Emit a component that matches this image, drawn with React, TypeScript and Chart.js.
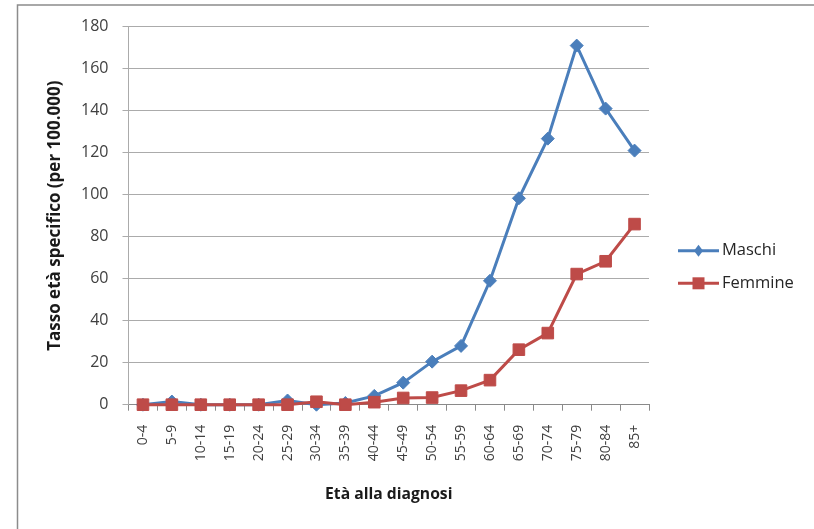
import React, { useEffect, useRef } from "react";
import { Chart, registerables } from "chart.js";

Chart.register(...registerables);

const categories = ["0-4","5-9","10-14","15-19","20-24","25-29","30-34","35-39","40-44","45-49","50-54","55-59","60-64","65-69","70-74","75-79","80-84","85+"];
const maschi = [0, 1.5, 0, 0, 0, 2, 0, 0.8, 4.2, 10.5, 20.5, 28, 59, 98.3, 126.7, 171, 141, 121];
const femmine = [0, 0, 0, 0, 0, 0, 1.4, 0, 1.2, 3.2, 3.4, 6.7, 11.7, 26.2, 34.1, 62.2, 68.3, 86];
const seriesNames = ["Maschi", "Femmine"];
const seriesColors = ["#4A7EBB", "#BE4B48"];
const yTitle = "Tasso età specifico (per 100.000)";
const xTitle = "Età alla diagnosi";

const FONT = "'Open Sans', Lato, sans-serif";

const frameAndLegend = {
  id: "frameAndLegend",
  afterDraw(chart: any) {
    const ctx = chart.ctx;
    ctx.save();
    ctx.strokeStyle = "#8c8c8c";
    ctx.lineWidth = 1.5;
    ctx.strokeRect(17.5, 5, 900, 600);
    const x0 = 678, x1 = 719, mx = 698.5;
    const ys = [250.7, 283.3];
    seriesNames.forEach((name, i) => {
      const y = ys[i];
      const c = seriesColors[i];
      ctx.strokeStyle = c;
      ctx.lineWidth = 3;
      ctx.beginPath();
      ctx.moveTo(x0, y);
      ctx.lineTo(x1, y);
      ctx.stroke();
      ctx.fillStyle = c;
      ctx.beginPath();
      if (i === 0) {
        ctx.moveTo(mx - 4.5, y);
        ctx.lineTo(mx, y - 6);
        ctx.lineTo(mx + 4.5, y);
        ctx.lineTo(mx, y + 6);
        ctx.closePath();
      } else {
        ctx.rect(mx - 6, y - 6, 12, 12);
      }
      ctx.fill();
      ctx.fillStyle = "#262626";
      ctx.font = "16.5px " + FONT;
      ctx.textAlign = "left";
      ctx.textBaseline = "middle";
      ctx.fillText(name, 722, y);
    });
    ctx.restore();
  },
};

export default function App() {
  const ref = useRef<HTMLCanvasElement | null>(null);
  useEffect(() => {
    const canvas = ref.current;
    if (!canvas) return;
    const chart = new Chart(canvas, {
      type: "line",
      data: {
        labels: categories,
        datasets: [
          {
            label: seriesNames[0],
            data: maschi,
            borderColor: seriesColors[0],
            backgroundColor: seriesColors[0],
            borderWidth: 3,
            pointStyle: "rectRot",
            pointRadius: 6.5,
            pointBorderWidth: 1,
            pointBackgroundColor: seriesColors[0],
            pointBorderColor: seriesColors[0],
            clip: false,
            order: 1,
          },
          {
            label: seriesNames[1],
            data: femmine,
            borderColor: seriesColors[1],
            backgroundColor: seriesColors[1],
            borderWidth: 3,
            pointStyle: "rect",
            pointRadius: 8.2,
            pointBorderWidth: 1,
            pointBackgroundColor: seriesColors[1],
            pointBorderColor: seriesColors[1],
            clip: false,
            order: 0,
          },
        ],
      } as any,
      options: {
        animation: false,
        responsive: false,
        events: [],
        layout: { padding: { left: 0, right: 165, top: 26.7, bottom: 0 } },
        plugins: { legend: { display: false }, tooltip: { enabled: false } },
        scales: {
          x: {
            offset: true,
            grid: { offset: true, drawOnChartArea: false, tickLength: 6, color: "#8a8a8a" },
            border: { color: "#8a8a8a" },
            ticks: {
              autoSkip: false,
              minRotation: 90,
              maxRotation: 90,
              padding: 14,
              color: "#404040",
              font: { family: FONT, size: 14 },
            },
            title: {
              display: true,
              text: xTitle,
              color: "#1a1a1a",
              font: { family: FONT, size: 15.7, weight: "bold" },
              padding: { top: 0, bottom: 25 },
            },
            afterFit(scale: any) {
              scale.height = 529 - 404.7;
            },
          },
          y: {
            min: 0,
            max: 180,
            ticks: {
              stepSize: 20,
              padding: 14,
              color: "#404040",
              font: { family: FONT, size: 16 },
            },
            grid: { color: "#ababab", tickLength: 6 },
            border: { color: "#ababab" },
            title: {
              display: true,
              text: yTitle,
              color: "#1a1a1a",
              font: { family: FONT, size: 17, weight: "bold" },
              padding: { top: 45, bottom: 0 },
            },
            afterFit(scale: any) {
              scale.width = 128.5;
            },
          },
        },
      } as any,
      plugins: [frameAndLegend],
    });
    return () => chart.destroy();
  }, []);
  return (
    <div style={{ position: "absolute", left: 0, top: 0, width: 814, height: 529, background: "#fff" }}>
      <canvas ref={ref} width={814} height={529} style={{ display: "block" }} />
    </div>
  );
}
